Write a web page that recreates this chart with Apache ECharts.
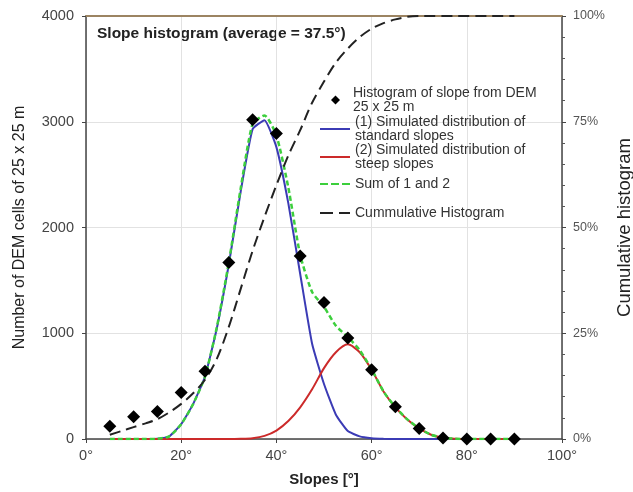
<!DOCTYPE html>
<html>
<head>
<meta charset="utf-8">
<script src="https://cdn.jsdelivr.net/npm/echarts@6/dist/echarts.min.js"></script>
<style>
  html, body { margin: 0; padding: 0; background: #fff; }
  #chart { width: 633px; height: 492px; }
</style>
</head>
<body>
<div id="chart"></div>
<script>
// histogram points (every 5°)
const histSlopes = [5, 10, 15, 20, 25, 30, 35, 40, 45, 50, 55, 60, 65, 70, 75, 80, 85, 90];
const histCounts = [120, 210, 260, 440, 640, 1670, 3020, 2890, 1730, 1290, 955, 655, 305, 100, 10, 0, 0, 0];

// curves (every 2.5°)
const curveSlopes = [5, 7.5, 10, 12.5, 15, 17.5, 20, 22.5, 25, 27.5, 30, 32.5, 35, 37.5, 40, 42.5, 45, 47.5,
  50, 52.5, 55, 57.5, 60, 62.5, 65, 67.5, 70, 72.5, 75, 77.5, 80, 82.5, 85, 87.5, 90];
const standardSlopes = [0, 0, 0, 0, 2, 25, 140, 330, 590, 1050, 1650, 2340, 2930, 3015, 2760, 2230, 1560, 900,
  520, 230, 75, 25, 8, 2, 0, 0, 0, 0, 0, 0, 0, 0, 0, 0, 0];
const steepSlopes = [0, 0, 0, 0, 0, 0, 0, 0, 0, 0, 0, 2, 8, 30, 80, 170, 300, 470,
  670, 820, 895, 820, 655, 450, 300, 185, 100, 40, 12, 3, 0, 0, 0, 0, 0];
const sumSlopes = [0, 0, 0, 0, 2, 25, 140, 330, 590, 1060, 1670, 2370, 2980, 3060, 2870, 2380, 1740, 1390,
  1250, 1070, 965, 840, 660, 450, 300, 185, 100, 40, 12, 3, 0, 0, 0, 0, 0];
const cumulative = [1, 1.9, 2.8, 3.7, 4.7, 6.3, 8.3, 10.8, 14, 19, 26.5, 35.5, 44.5, 52.5, 60, 67, 73, 79.5,
  84.5, 89, 92.3, 95, 97, 98.3, 99.2, 99.8, 100, 100, 100, 100, 100, 100, 100, 100, 100];

const names = {
  hist: 'Histogram of slope from DEM\n25 x 25 m',
  std: '(1) Simulated distribution of\nstandard slopes',
  steep: '(2) Simulated distribution of\nsteep slopes',
  sum: 'Sum of 1 and 2',
  cum: 'Cummulative Histogram'
};

const pairs = (xs, ys) => xs.map((x, i) => [x, ys[i]]);

const font = 'Liberation Sans, Arial, sans-serif';
const lh = 14;

// one legend per entry so that the symbol sits on the first text line
function legendFor(name, y, icon, opts) {
  const twoLine = name.indexOf('\n') >= 0;
  const o = opts || {};
  const h = o.h || 2;
  return {
    data: [{ name: name, icon: icon }],
    left: o.left || 320,
    top: y - (twoLine ? 1.5 * lh : 0.5 * lh),
    itemWidth: o.w || 30,
    itemHeight: h,
    itemGap: 0,
    padding: 0,
    selectedMode: false,
    textStyle: {
      fontFamily: font,
      fontSize: 14,
      color: '#333',
      lineHeight: lh,
      padding: [twoLine ? lh : 0, 0, 0, o.padLeft || 0]
    }
  };
}

const chart = echarts.init(document.getElementById('chart'));
chart.setOption({
  animation: false,
  textStyle: { fontFamily: font },
  grid: { left: 86, right: 71, top: 16, bottom: 53, outerBoundsMode: 'none', containLabel: false },
  graphic: [{
    type: 'text',
    left: 97,
    top: 26,
    style: {
      text: 'Slope histogram (average = 37.5°)',
      font: 'bold 15.5px ' + font,
      fill: '#222'
    }
  }],
  legend: [
    legendFor(names.hist, 100, 'diamond', { left: 331, w: 9, h: 9, padLeft: 8 }),
    legendFor(names.std, 129, 'rect'),
    legendFor(names.steep, 157, 'rect'),
    legendFor(names.sum, 184, 'path://M0,0h8v2h-8zM11,0h8v2h-8zM22,0h8v2h-8z'),
    legendFor(names.cum, 213, 'path://M0,0h13v2h-13zM19,0h11v2h-11z')
  ],
  xAxis: [{
    type: 'value',
    min: 0,
    max: 100,
    interval: 20,
    name: 'Slopes [°]',
    nameLocation: 'middle',
    nameGap: 33,
    nameTextStyle: { fontSize: 15, fontWeight: 'bold', color: '#222' },
    axisLine: { onZero: false, lineStyle: { color: '#444', width: 1.5 } },
    axisTick: { show: true, length: 4, lineStyle: { color: '#444' } },
    axisLabel: { fontSize: 14.5, color: '#444', margin: 9, formatter: '{value}°' },
    splitLine: { show: true, lineStyle: { color: '#e2e2e2' } }
  }, {
    type: 'value',
    position: 'top',
    min: 0,
    max: 100,
    axisLine: { show: true, onZero: false, lineStyle: { color: '#9c8462', width: 2 } },
    axisTick: { show: false },
    axisLabel: { show: false },
    splitLine: { show: false }
  }],
  yAxis: [{
    type: 'value',
    min: 0,
    max: 4000,
    interval: 1000,
    name: 'Number of DEM cells of 25 x 25 m',
    nameLocation: 'middle',
    nameGap: 58,
    nameTextStyle: { fontSize: 16, color: '#222' },
    axisLine: { show: true, onZero: false, lineStyle: { color: '#444', width: 1.5 } },
    axisTick: { show: true, length: 4, lineStyle: { color: '#444' } },
    axisLabel: { fontSize: 14.5, color: '#444', margin: 12, formatter: v => String(v) },
    splitLine: { show: true, lineStyle: { color: '#e2e2e2' } }
  }, {
    type: 'value',
    min: 0,
    max: 100,
    interval: 25,
    position: 'right',
    name: 'Cumulative histogram',
    nameLocation: 'middle',
    nameGap: 38,
    nameRotate: 90,
    nameTextStyle: { fontSize: 18.5, color: '#222' },
    axisLine: { show: true, onZero: false, lineStyle: { color: '#444', width: 1.5 } },
    axisTick: { show: true, length: 4, lineStyle: { color: '#444' } },
    minorTick: { show: true, splitNumber: 5, length: 3, lineStyle: { color: '#555' } },
    axisLabel: { fontSize: 12.5, color: '#555', margin: 11, formatter: '{value}%' },
    splitLine: { show: false }
  }],
  series: [
    {
      name: names.std,
      type: 'line',
      data: pairs(curveSlopes, standardSlopes),
      smooth: 0.15,
      symbol: 'none',
      lineStyle: { color: '#3b3bb5', width: 2 },
      itemStyle: { color: '#3b3bb5' },
      z: 2
    },
    {
      name: names.steep,
      type: 'line',
      data: pairs(curveSlopes, steepSlopes),
      smooth: 0.25,
      symbol: 'none',
      lineStyle: { color: '#cc2a2a', width: 2 },
      itemStyle: { color: '#cc2a2a' },
      z: 2
    },
    {
      name: names.sum,
      type: 'line',
      data: pairs(curveSlopes, sumSlopes),
      smooth: 0.2,
      symbol: 'none',
      lineStyle: { color: '#3ccf3c', width: 2.5, type: [5, 3] },
      itemStyle: { color: '#3ccf3c' },
      z: 3
    },
    {
      name: names.cum,
      type: 'line',
      yAxisIndex: 1,
      data: pairs(curveSlopes, cumulative),
      smooth: 0.3,
      symbol: 'none',
      lineStyle: { color: '#222', width: 2, type: [11, 6] },
      itemStyle: { color: '#222' },
      z: 3
    },
    {
      name: names.hist,
      type: 'scatter',
      data: pairs(histSlopes, histCounts),
      symbol: 'diamond',
      symbolSize: 13,
      itemStyle: { color: '#000', opacity: 1 },
      z: 5
    }
  ]
});
</script>
</body>
</html>
